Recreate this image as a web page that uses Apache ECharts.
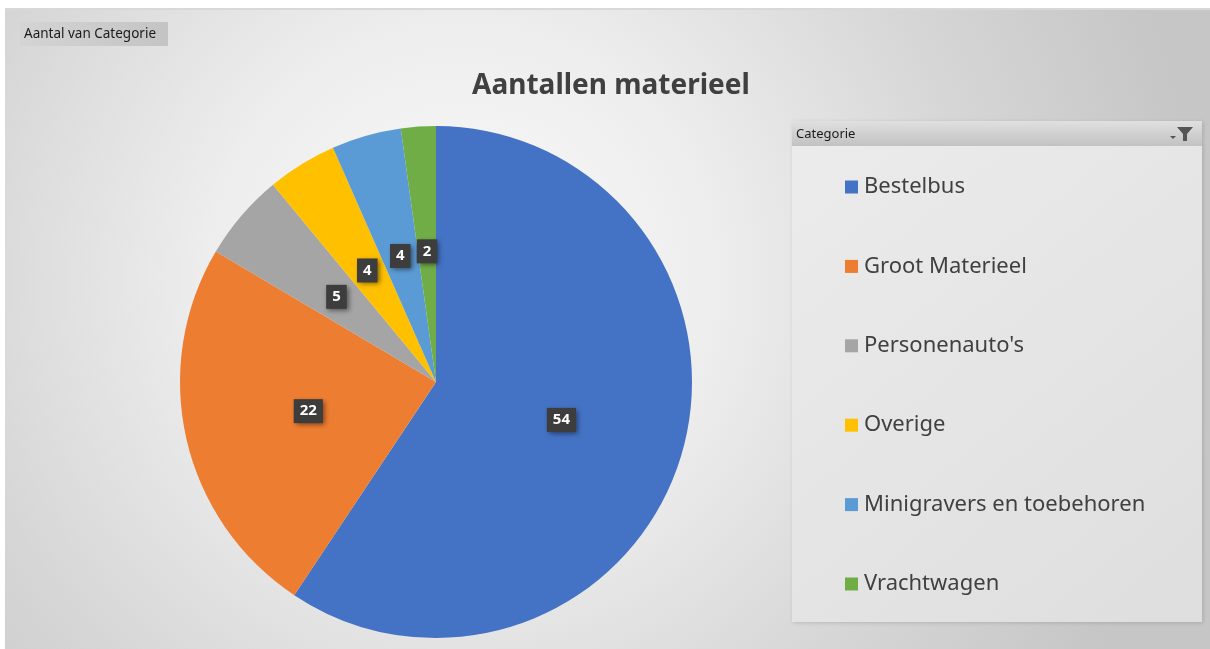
<!DOCTYPE html>
<html>
<head>
<meta charset="utf-8">
<script src="https://cdn.jsdelivr.net/npm/echarts@6/dist/echarts.min.js"></script>
<style>
html,body{margin:0;padding:0;background:#fff;}
#chart{width:1210px;height:649px;}
</style>
</head>
<body>
<div id="chart"></div>
<script>
const categories = ['Bestelbus', 'Groot Materieel', "Personenauto's", 'Overige', 'Minigravers en toebehoren', 'Vrachtwagen'];
const values = [54, 22, 5, 4, 4, 2];
const colors = ['#4472C4', '#ED7D31', '#A5A5A5', '#FFC000', '#5B9BD5', '#70AD47'];
const titleText = 'Aantallen materieel';
const buttonText = 'Aantal van Categorie';
const legendHeader = 'Categorie';

const chart = echarts.init(document.getElementById('chart'), null, {renderer: 'canvas'});
const font = '"Noto Sans", "Open Sans", sans-serif';

chart.setOption({
  animation: false,
  color: colors,
  title: {
    text: titleText,
    left: 606, top: 67, textAlign: 'center',
    textStyle: {fontFamily: font, fontSize: 28, fontWeight: 'bold', color: '#404040'}
  },
  graphic: [
    {type: 'rect', z: -10, shape: {x: 5, y: 9, width: 1205, height: 640},
     style: {fill: {type: 'radial', x: 0.38, y: 0.42, r: 1.15,
       colorStops: [{offset: 0, color: '#fbfbfb'}, {offset: 0.35, color: '#ededed'}, {offset: 0.7, color: '#d6d6d6'}, {offset: 1, color: '#c6c6c6'}]}}},
    {type: 'rect', z: -9, shape: {x: 5, y: 8, width: 1205, height: 2}, style: {fill: '#d8d8d8'}},
    // button
    {type: 'rect', z: -5, shape: {x: 20, y: 22, width: 148, height: 24},
     style: {fill: {type: 'linear', x: 0, y: 0, x2: 1, y2: 0,
       colorStops: [{offset: 0, color: '#d4d4d4'}, {offset: 1, color: '#c4c4c4'}]}}},
    {type: 'text', z: 5, style: {x: 24, y: 34, text: buttonText, verticalAlign: 'middle',
       font: '13.5px "Noto Sans", sans-serif', fill: '#1a1a1a'}},
    // legend panel
    {type: 'rect', z: -5, shape: {x: 792, y: 121, width: 410, height: 501},
     style: {fill: {type: 'linear', x: 0, y: 0, x2: 1, y2: 1,
       colorStops: [{offset: 0, color: '#ececec'}, {offset: 1, color: '#dedede'}]},
       shadowBlur: 4, shadowColor: 'rgba(0,0,0,0.15)', shadowOffsetX: 1, shadowOffsetY: 1}},
    {type: 'rect', z: -4, shape: {x: 792, y: 121, width: 410, height: 25},
     style: {fill: {type: 'linear', x: 0, y: 0, x2: 0, y2: 1,
       colorStops: [{offset: 0, color: '#e0e0e0'}, {offset: 1, color: '#c2c2c2'}]}}},
    {type: 'text', z: 5, style: {x: 796, y: 134, text: legendHeader, verticalAlign: 'middle',
       font: '13px "Noto Sans", sans-serif', fill: '#1a1a1a'}},
    {type: 'polygon', z: 5, shape: {points: [[1177, 127], [1193, 127], [1187, 134], [1187, 141], [1183, 141], [1183, 134]]},
     style: {fill: '#555'}},
    {type: 'polygon', z: 5, shape: {points: [[1170, 136], [1176, 136], [1173, 139]]},
     style: {fill: '#555'}}
  ],
  legend: {
    orient: 'vertical',
    left: 845, top: 174,
    padding: 0,
    itemWidth: 13, itemHeight: 13,
    itemGap: 53.4,
    icon: 'rect',
    data: categories,
    selectedMode: false,
    textStyle: {fontFamily: font, fontSize: 22, color: '#404040', lineHeight: 26, padding: [0, 0, 0, 1]}
  },
  series: [{
    type: 'pie',
    center: [436, 382],
    radius: 256,
    startAngle: 90,
    clockwise: true,
    data: categories.map((c, i) => ({name: c, value: values[i]})),
    label: {
      position: 'inside',
      formatter: '{c}',
      color: '#fff',
      fontFamily: font,
      fontSize: 15,
      fontWeight: 'bold',
      backgroundColor: '#3d3d3d',
      padding: [5, 6, 4, 6],
      shadowBlur: 5,
      shadowColor: 'rgba(0,0,0,0.5)',
      shadowOffsetX: 2,
      shadowOffsetY: 2
    },
    labelLine: {show: false},
    emphasis: {disabled: true},
    itemStyle: {borderWidth: 0}
  }]
});
</script>
</body>
</html>
